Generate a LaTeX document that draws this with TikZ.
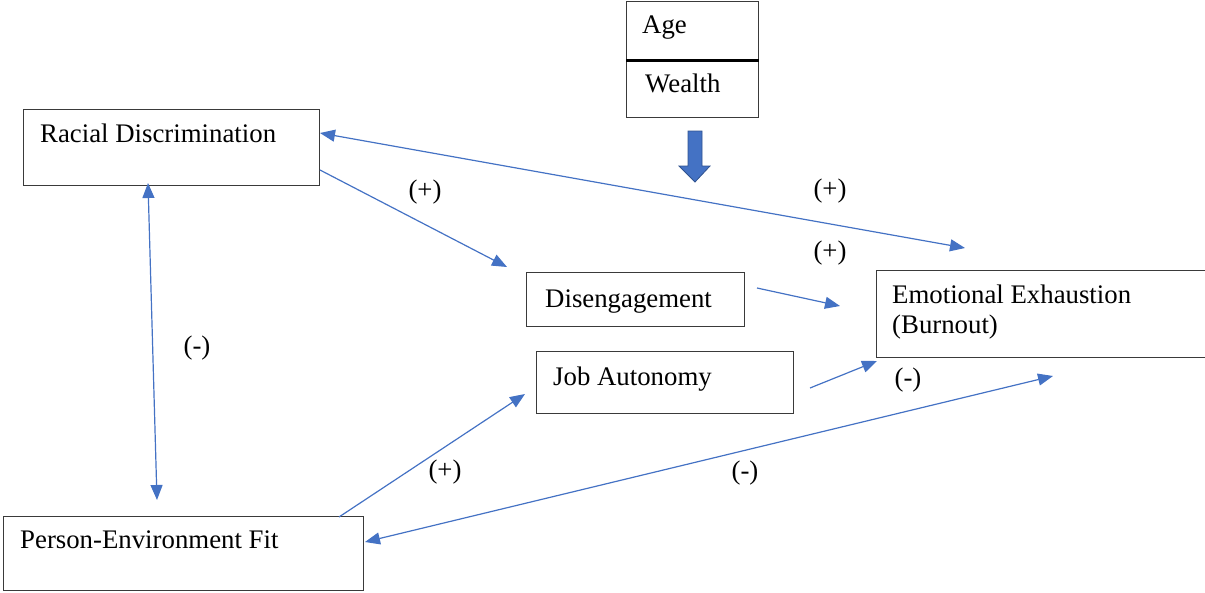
\documentclass[tikz,border=0pt]{standalone}
\usepackage{fontspec}
\setmainfont{Liberation Serif}
\usetikzlibrary{arrows.meta}
\definecolor{linkblue}{HTML}{4472C4}
\definecolor{linkdark}{HTML}{2F528F}
\definecolor{boxline}{HTML}{3A3A3A}
\begin{document}
\begin{tikzpicture}[x=1pt,y=-1pt,
  box/.style={draw=boxline, line width=1.3pt, rectangle, inner sep=0pt, anchor=north west},
  txt/.style={anchor=base west, inner sep=0pt, font=\fontsize{26.8}{31}\selectfont},
  sign/.style={anchor=center, inner sep=0pt, font=\fontsize{26.8}{31}\selectfont},
  link/.style={draw=linkblue, line width=1.2pt},
  tip/.tip={Triangle[length=15pt,width=12pt]}
]
\useasboundingbox (0,0) rectangle (1205,592);

% boxes
\node[box, minimum width=132pt, minimum height=58pt] (age) at (626,1) {};
\node[box, minimum width=132pt, minimum height=58pt] (wealth) at (626,59) {};
\node[box, minimum width=296pt, minimum height=76pt] (rd) at (23,109) {};
\node[box, minimum width=218pt, minimum height=54pt] (dis) at (526,272) {};
\node[box, minimum width=257pt, minimum height=62pt] (ja) at (536,351) {};
\node[box, minimum width=330pt, minimum height=87pt] (ee) at (876,270) {};
\node[box, minimum width=360pt, minimum height=74pt] (pef) at (3,516) {};
\draw[black, line width=2.6pt] (age.south west) -- (age.south east);

% box texts
\node[txt] (agetxt) at (642,33) {Age};
\node[txt] (wealthtxt) at (645,92) {Wealth};
\node[txt] (rdtxt) at (40,142) {Racial Discrimination};
\node[txt] (distxt) at (545,307) {Disengagement};
\node[txt] (jatxt) at (553,385) {Job Autonomy};
\node[txt] (eetxt1) at (892,303) {Emotional Exhaustion};
\node[txt] (eetxt2) at (892,333) {(Burnout)};
\node[txt] (peftxt) at (20,548) {Person-Environment Fit};

% block arrow from the control variables
\filldraw[fill=linkblue, draw=linkdark, line width=0.8pt]
  (688,131) -- ++(14,0) -- ++(0,35) -- ++(8,0) -- (695,182) -- (679,166) -- ++(9,0) -- cycle;

% connector end points
\coordinate (rdA) at (320,133);
\coordinate (eeA) at (965,248);
\coordinate (rdB) at (320,170);
\coordinate (disA) at (507,267);
\coordinate (disB) at (757,288);
\coordinate (eeB) at (840,306);
\coordinate (jaB) at (810,388);
\coordinate (eeC) at (877,361);
\coordinate (pefA) at (365,542);
\coordinate (eeD) at (1053,376);
\coordinate (pefB) at (339,517);
\coordinate (jaA) at (525,394);
\coordinate (rdC) at (148,183);
\coordinate (pefC) at (157,500);

% connectors
\draw[link, {tip}-{tip}] (rdA) -- (eeA);
\draw[link, -{tip}] (rdB) -- (disA);
\draw[link, -{tip}] (disB) -- (eeB);
\draw[link, -{tip}] (jaB) -- (eeC);
\draw[link, {tip}-{tip}] (pefA) -- (eeD);
\draw[link, -{tip}] (pefB) -- (jaA);
\draw[link, {tip}-{tip}] (rdC) -- (pefC);

% signs
\node[sign] (s1) at (425,192) {(+)};
\node[sign] (s2) at (830,191) {(+)};
\node[sign] (s3) at (830,253) {(+)};
\node[sign] (s4) at (197,348) {(-)};
\node[sign] (s5) at (908,380) {(-)};
\node[sign] (s6) at (445,472) {(+)};
\node[sign] (s7) at (745,473) {(-)};
\end{tikzpicture}
\end{document}
